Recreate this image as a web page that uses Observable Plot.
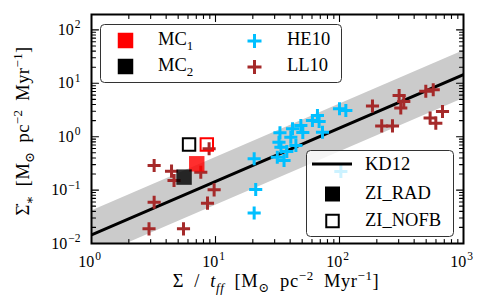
<!DOCTYPE html>
<html><head><meta charset="utf-8">
<script src="https://cdn.jsdelivr.net/npm/d3@7"></script>
<script src="https://cdn.jsdelivr.net/npm/@observablehq/plot@0.6"></script>
<style>
body{margin:0;background:#fff;}
#chart{width:478px;height:295px;}
</style></head><body><div id="chart"></div>
<script>
// ---- data ----
const xTicks = [1, 10, 100, 1000];
const yTicks = [0.01, 0.1, 1, 10, 100];
const xDomain = [1, 1000];
const yDomain = [0.01, 194];

const he10Sigma = [20.5, 21.1, 20.5, 33.1, 32.5, 31.5, 35.7, 33.7, 37.6, 41.8, 40.5, 44.5, 48.8, 50.6, 60.5, 66.4, 68.5, 72.9, 100, 112.5, 102.6];
const he10SFR   = [0.386, 0.1026, 0.0372, 1.18, 0.789, 0.413, 0.358, 0.635, 0.529, 1.41, 0.98, 0.684, 1.62, 1.2, 2.01, 2.49, 1.93, 1.21, 3.33, 3.1, 0.223];

const ll10Sigma = [8.88, 3.2, 4.42, 4.63, 7.61, 9.75, 8.62, 3.2, 2.91, 5.52, 184.5, 302.6, 330, 312, 219, 267.5, 496.5, 570, 677, 538, 598];
const ll10SFR   = [0.593, 0.289, 0.226, 0.151, 0.216, 0.101, 0.0569, 0.0593, 0.0188, 0.0188, 3.76, 5.91, 4.56, 3.45, 1.59, 1.59, 7.11, 7.55, 2.96, 2.24, 1.79];

const simNames  = ["MC1", "MC2"];
const simColors = ["#ff0000", "#000000"];
const radSigma  = [7.06, 5.58];
const radSFR    = [0.311, 0.175];
const nofbSigma = [8.51, 6.12];
const nofbSFR   = [0.714, 0.714];

const kd12Eff = 0.0145;
const kd12Scatter = 2.8;
const kdRange = [1, 1000];

// ---- helpers ----
const FONT = "'Liberation Serif', 'DejaVu Serif', serif";
const he10 = he10Sigma.map((s, i) => ({s, r: he10SFR[i]}));
const ll10 = ll10Sigma.map((s, i) => ({s, r: ll10SFR[i]}));
const sims = simNames.map((n, i) => ({n, c: simColors[i], rs: radSigma[i], rr: radSFR[i], ns: nofbSigma[i], nr: nofbSFR[i]}));

function minorTicks(lo, hi) {
  const out = [];
  for (let e = Math.floor(Math.log10(lo)); e <= Math.ceil(Math.log10(hi)); e++)
    for (let m = 2; m <= 9; m++) { const v = m * Math.pow(10, e); if (v > lo && v < hi) out.push(v); }
  return out;
}
const xMinor = minorTicks(xDomain[0], xDomain[1]);
const yMinor = minorTicks(yDomain[0], yDomain[1]);
const yMajor = yTicks.filter(v => v > yDomain[0] && v < yDomain[1]);
const xMajor = xTicks.filter(v => v > xDomain[0] && v < xDomain[1]);

const tickShape = {draw(ctx, l) { ctx.moveTo(0, 0); ctx.lineTo(0, -l); }};
function ticksX(data, len, anchor) {
  return Plot.vector(data, {x: d => d, frameAnchor: anchor, length: len, rotate: anchor === "bottom" ? 0 : 180,
    anchor: "start", shape: tickShape, stroke: "black", strokeWidth: 1.1});
}
function ticksY(data, len, anchor) {
  return Plot.vector(data, {y: d => d, frameAnchor: anchor, length: len, rotate: anchor === "left" ? 90 : -90,
    anchor: "start", shape: tickShape, stroke: "black", strokeWidth: 1.1});
}
const fmt = d => { const e = Math.round(Math.log10(d)); return "10^" + (e < 0 ? "\u2212" + (-e) : e); };

const plot = Plot.plot({
  width: 478, height: 295,
  marginLeft: 91, marginRight: 15, marginTop: 14, marginBottom: 52,
  style: {fontFamily: FONT, fontSize: "16px", background: "white", color: "black"},
  x: {type: "log", domain: xDomain},
  y: {type: "log", domain: yDomain},
  marks: [
    Plot.areaY(kdRange, {x: d => d, y1: d => kd12Eff * d / kd12Scatter, y2: d => kd12Eff * d * kd12Scatter, fill: "#cbcbcb", clip: true}),
    Plot.line(kdRange, {x: d => d, y: d => kd12Eff * d, stroke: "black", strokeWidth: 3, clip: true}),
    Plot.dot(he10, {x: "s", y: "r", symbol: "plus", r: 4.3, stroke: "#00bfff", strokeWidth: 3}),
    Plot.dot(ll10, {x: "s", y: "r", symbol: "plus", r: 4.3, stroke: "#a52a2a", strokeWidth: 3}),
    Plot.dot(sims, {x: "rs", y: "rr", symbol: "square", r: 8.7, fill: "c", fillOpacity: 0.82, stroke: null}),
    Plot.dot(sims, {x: "ns", y: "nr", symbol: "square", r: 7, fill: "none", stroke: "c", strokeWidth: 2}),
    ticksX(xMajor, 7, "bottom"), ticksX(xMinor, 4, "bottom"),
    ticksX(xMajor, 7, "top"), ticksX(xMinor, 4, "top"),
    ticksY(yMajor, 7, "left"), ticksY(yMinor, 4, "left"),
    ticksY(yMajor, 7, "right"), ticksY(yMinor, 4, "right"),
    Plot.axisX(xTicks, {tickSize: 0, tickPadding: 12, tickFormat: fmt, label: null, dx: -2, fontSize: 16}),
    Plot.axisY(yTicks.filter(v => v <= yDomain[1]), {tickSize: 0, tickPadding: 11, tickFormat: fmt, label: null, fontSize: 16}),
    Plot.frame({stroke: "black", strokeWidth: 2})
  ]
});
document.getElementById("chart").appendChild(plot);

const svg = d3.select(plot);
// rich superscripts for tick labels
svg.selectAll('g[aria-label="x-axis tick label"] text, g[aria-label="y-axis tick label"] text').each(function () {
  const t = this.textContent; if (!t.includes("^")) return;
  const [b, e] = t.split("^");
  const el = d3.select(this); el.text(null);
  el.append("tspan").text(b);
  el.append("tspan").attr("font-size", 11.5).attr("dy", -6.5).attr("dx", 1).text(e);
});

function rich(parent, x, y, parts, size, attrs = {}) {
  const t = parent.append("text").attr("x", x).attr("y", y).attr("font-size", size).attr("font-family", FONT)
    .attr("fill", "black").attr("text-anchor", "start");
  for (const k in attrs) t.attr(k, attrs[k]);
  let shift = 0;
  for (const p of parts) {
    const target = p.s === "sub" ? 4.5 : p.s === "sup" ? -7 : 0;
    const ts = t.append("tspan").text(p.t).attr("dy", target - shift);
    shift = target;
    if (p.s) ts.attr("font-size", size * 0.7);
    if (p.i) ts.attr("font-style", "italic");
  }
  return t;
}

const G = svg.append("g");
// axis titles
rich(G, 276, 287, [{t: "\u03A3 / "}, {t: "t", i: true}, {t: "ff", s: "sub", i: true}, {t: " [M"}, {t: "\u2299", s: "sub"}, {t: " pc"}, {t: "\u22122", s: "sup"}, {t: " Myr"}, {t: "\u22121", s: "sup"}, {t: "]"}], 18.5,
  {"text-anchor": "middle", "word-spacing": 5, "letter-spacing": 0.6});
rich(G, 0, 0, [{t: "\u03A3\u0307"}, {t: "\u2217", s: "sub"}, {t: " [M"}, {t: "\u2299", s: "sub"}, {t: " pc"}, {t: "\u22122", s: "sup"}, {t: " Myr"}, {t: "\u22121", s: "sup"}, {t: "]"}], 18.5,
  {"text-anchor": "middle", "word-spacing": 4, "letter-spacing": 0.4, transform: "translate(29,131) rotate(-90)"});

function box(x, y, w, h) {
  G.append("rect").attr("x", x).attr("y", y).attr("width", w).attr("height", h).attr("rx", 4)
    .attr("fill", "white").attr("fill-opacity", 0.8).attr("stroke", "#333").attr("stroke-width", 1);
}
function sq(cx, cy, s, fill, stroke, sw) {
  G.append("rect").attr("x", cx - s / 2).attr("y", cy - s / 2).attr("width", s).attr("height", s)
    .attr("fill", fill).attr("stroke", stroke || "none").attr("stroke-width", sw || 0);
}
function plus(cx, cy, h, color) {
  G.append("path").attr("d", `M${cx - h},${cy}H${cx + h}M${cx},${cy - h}V${cy + h}`).attr("stroke", color).attr("stroke-width", 3).attr("fill", "none");
}
// legend 1
box(100.5, 24.5, 241, 58);
sq(125.5, 40.5, 15.5, simColors[0]);
rich(G, 158, 45, [{t: "MC"}, {t: "1", s: "sub"}], 18.5);
sq(125.5, 66.5, 15.5, simColors[1]);
rich(G, 158, 71, [{t: "MC"}, {t: "2", s: "sub"}], 18.5);
plus(254.5, 41, 7, "#00bfff");
rich(G, 287, 45, [{t: "HE10"}], 18.5);
plus(254.5, 67, 7, "#a52a2a");
rich(G, 287, 71, [{t: "LL10"}], 18.5);
// legend 2
box(306.5, 150.5, 147, 86);
G.append("line").attr("x1", 312).attr("x2", 352).attr("y1", 164).attr("y2", 164).attr("stroke", "black").attr("stroke-width", 3);
rich(G, 365, 170, [{t: "KD12"}], 18.5);
sq(332.5, 194, 15, "black");
rich(G, 365, 199, [{t: "ZI_RAD"}], 18.5);
sq(332.5, 221, 12.5, "none", "black", 2);
rich(G, 365, 226, [{t: "ZI_NOFB"}], 18.5);
</script></body></html>
